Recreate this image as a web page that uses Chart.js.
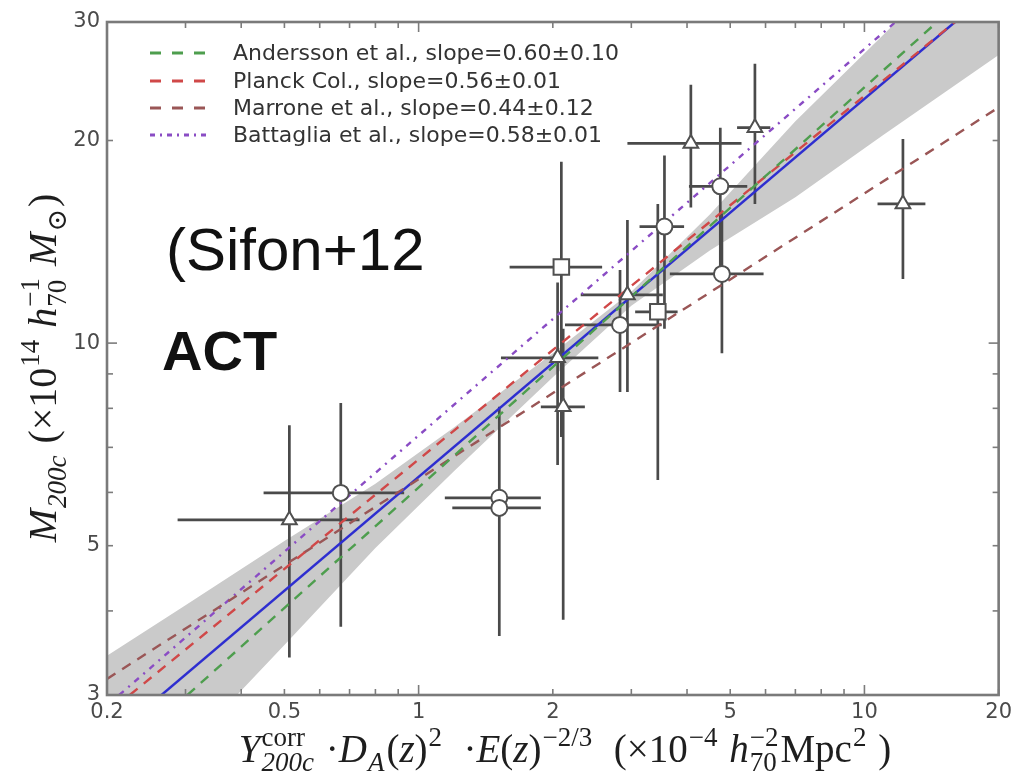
<!DOCTYPE html>
<html>
<head>
<meta charset="utf-8">
<script src="https://cdn.jsdelivr.net/npm/chart.js@4.4.1/dist/chart.umd.min.js"></script>
<style>
  html, body { margin: 0; padding: 0; background: #fff; }
  canvas { display: block; }
</style>
</head>
<body>
<canvas id="c" width="1017" height="777"></canvas>
<script>
// ---------- axis ticks ----------
const xMajorVals = [0.2, 0.5, 1, 2, 5, 10, 20];
const xMajorLabels = ['0.2', '0.5', '1', '2', '5', '10', '20'];
const yMajorVals = [3, 5, 10, 20, 30];
const yMajorLabels = ['3', '5', '10', '20', '30'];
const xMinorVals = [0.3, 0.4, 0.6, 0.7, 0.8, 0.9, 3, 4, 6, 7, 8, 9];
const yMinorVals = [4, 6, 7, 8, 9];
const decadeVals = [1, 10];

// ---------- clusters: [Y, M, Ylo, Yhi, Mlo, Mhi] ----------
const circlePts = [
  [0.669, 5.99, 0.449, 0.928, 3.79, 8.15],
  [1.517, 5.89, 1.145, 1.88, 4.05, 8.04],
  [1.517, 5.69, 1.19, 1.88, 3.67, 7.25],
  [2.83, 10.64, 2.13, 3.51, 8.46, 12.84],
  [3.56, 14.9, 3.13, 3.94, 10.5, 19.0],
  [4.75, 17.1, 4.04, 5.46, 13.0, 20.9],
  [4.79, 12.67, 3.66, 5.94, 9.66, 15.6]
];
const squarePts = [
  [2.09, 12.97, 1.60, 2.58, 7.25, 18.6],
  [3.44, 11.13, 3.06, 3.81, 6.26, 16.1]
];
const trianglePts = [
  [0.513, 5.46, 0.288, 0.737, 3.41, 7.55],
  [2.05, 9.51, 1.53, 2.53, 6.59, 12.3],
  [2.11, 8.04, 1.88, 2.36, 3.88, 10.5],
  [2.94, 11.79, 2.31, 3.53, 8.46, 15.24],
  [4.08, 19.8, 2.94, 5.3, 15.9, 24.2],
  [5.68, 20.9, 5.18, 6.15, 16.1, 26.0],
  [12.2, 16.1, 10.7, 13.7, 12.45, 20.1]
];

// ---------- scaling relations (end points) ----------
const bestFitX = [0.265, 15.96], bestFitY = [3, 30];
const anderssonX = [0.303, 14.56], anderssonY = [3, 30];
const planckX = [0.225, 15.96], planckY = [3, 30];
const marroneX = [0.2, 20], marroneY = [3.17, 22.4];
const battagliaX = [0.213, 11.74], battagliaY = [3, 30];

// ---------- confidence band of the best fit ----------
const bandX = [0.2, 0.3, 0.5, 0.8, 1.2, 2, 3, 4.5, 7, 11, 20];
const bandHi = [3.43, 4.08, 5.08, 6.18, 7.49, 9.66, 11.92, 15.53, 21.36, 28.66, 42.7];
const bandLo = [1.88, 2.49, 3.56, 4.96, 6.45, 8.90, 11.36, 13.73, 16.47, 20.36, 26.8];

// ---------- legend / annotation text ----------
const legendLabels = [
  'Andersson et al., slope=0.60\u00b10.10',
  'Planck Col., slope=0.56\u00b10.01',
  'Marrone et al., slope=0.44\u00b10.12',
  'Battaglia et al., slope=0.58\u00b10.01'
];
const noteRef = '(Sifon+12';
const noteSurvey = 'ACT';

const allPts = [...circlePts, ...squarePts, ...trianglePts];
const xErrData = [];
const yErrData = [];
allPts.forEach(p => {
  xErrData.push({x: p[2], y: p[1]}, {x: p[3], y: p[1]}, {x: p[3], y: null});
  yErrData.push({x: p[0], y: p[4]}, {x: p[0], y: p[5]}, {x: p[0], y: null});
});
const pairs = (xs, ys) => xs.map((x, i) => ({x, y: ys[i]}));
const pts = arr => arr.map(p => ({x: p[0], y: p[1]}));

const lineStyle = (data, color, dash, width) => ({
  type: 'scatter', data, showLine: true, borderColor: color, borderDash: dash,
  borderWidth: width, pointRadius: 0, fill: false, order: 3, tension: 0
});

const markerStyle = (data, style, r) => ({
  type: 'scatter', data, pointStyle: style, pointRadius: r,
  backgroundColor: '#ffffff', borderColor: '#505050', borderWidth: 2, order: 1
});

const ERR = '#4a4a4a';
const datasets = [
  { type: 'scatter', data: pairs(bandX, bandHi), showLine: true, fill: '+1',
    backgroundColor: '#cacaca', borderWidth: 0, pointRadius: 0, order: 6 },
  { type: 'scatter', data: pairs(bandX, bandLo), showLine: true, fill: false,
    borderWidth: 0, pointRadius: 0, order: 6 },
  { type: 'scatter', data: xErrData, showLine: true, spanGaps: false, borderColor: ERR,
    borderWidth: 2.7, pointRadius: 0, order: 4 },
  { type: 'scatter', data: yErrData, showLine: true, spanGaps: false, borderColor: ERR,
    borderWidth: 2.7, pointRadius: 0, order: 4 },
  lineStyle(pairs(anderssonX, anderssonY), '#4e9e4e', [10, 8], 2.4),
  lineStyle(pairs(planckX, planckY), '#d04848', [10, 8], 2.4),
  lineStyle(pairs(marroneX, marroneY), '#9a5656', [10, 8], 2.4),
  lineStyle(pairs(battagliaX, battagliaY), '#8a4cc4', [6, 6, 2, 6], 2.4),
  lineStyle(pairs(bestFitX, bestFitY), '#2e2ed0', [], 2.4),
  markerStyle(pts(circlePts), 'circle', 8),
  markerStyle(pts(squarePts), 'rect', 11),
  markerStyle(pts(trianglePts), 'triangle', 8.5)
];
const legendDatasets = [4, 5, 6, 7];

// ---------- mathematical axis titles ----------
const yTitle = [
  {t: 'M', i: 1}, {sub: '200c', subI: 1}, {t: ' (\u00d710'}, {sup: '14'}, {t: ' '},
  {t: 'h', i: 1}, {sub: '70', sup: '\u22121'}, {t: ' '}, {t: 'M', i: 1}, {sub: '\u2299'}, {t: ')'}
];
const xTitle = [
  {t: 'Y', i: 1}, {sup: 'corr', sub: '200c', subI: 1}, {t: ' \u00b7'}, {t: 'D', i: 1}, {sub: 'A', subI: 1},
  {t: '('}, {t: 'z', i: 1}, {t: ')'}, {sup: '2'}, {t: '  \u00b7'}, {t: 'E', i: 1}, {t: '('}, {t: 'z', i: 1},
  {t: ')'}, {sup: '\u22122/3'}, {t: '  (\u00d710'}, {sup: '\u22124'}, {t: ' '}, {t: 'h', i: 1},
  {sub: '70', sup: '\u22122'}, {t: 'Mpc'}, {sup: '2'}, {t: ' )'}
];
const SERIF = '"Liberation Serif", "DejaVu Serif", serif';

function layoutRich(ctx, segs, size) {
  const small = Math.round(size * 0.68);
  const items = [];
  let w = 0;
  for (const s of segs) {
    if (s.t !== undefined) {
      const font = (s.i ? 'italic ' : '') + size + 'px ' + SERIF;
      ctx.font = font;
      items.push({text: s.t, font, x: w, dy: 0});
      w += ctx.measureText(s.t).width;
    } else {
      let adv = 0;
      if (s.sup !== undefined) {
        const font = small + 'px ' + SERIF;
        ctx.font = font;
        items.push({text: s.sup, font, x: w + 1, dy: -size * 0.42});
        adv = Math.max(adv, ctx.measureText(s.sup).width + 1);
      }
      if (s.sub !== undefined) {
        const font = (s.subI ? 'italic ' : '') + small + 'px ' + SERIF;
        ctx.font = font;
        items.push({text: s.sub, font, x: w + 1, dy: size * 0.24});
        adv = Math.max(adv, ctx.measureText(s.sub).width + 1);
      }
      w += adv + 2;
    }
  }
  return {items, w};
}

function drawRich(ctx, segs, size, cx, cy, rotate) {
  const {items, w} = layoutRich(ctx, segs, size);
  ctx.save();
  ctx.translate(cx, cy);
  if (rotate) ctx.rotate(-Math.PI / 2);
  ctx.fillStyle = '#1e1e1e';
  ctx.textBaseline = 'alphabetic';
  ctx.textAlign = 'left';
  for (const it of items) {
    ctx.font = it.font;
    ctx.fillText(it.text, it.x - w / 2, it.dy);
  }
  ctx.restore();
}

const decor = {
  id: 'decor',
  afterDatasetsDraw(chart) {
    const {ctx, chartArea: a, scales} = chart;
    const sx = scales.x, sy = scales.y;
    ctx.save();
    // tick marks, inside on all four sides
    ctx.strokeStyle = '#7c7c7c';
    ctx.lineWidth = 1.6;
    const seg = (x1, y1, x2, y2) => { ctx.beginPath(); ctx.moveTo(x1, y1); ctx.lineTo(x2, y2); ctx.stroke(); };
    [...xMajorVals, ...xMinorVals].forEach(v => {
      const len = decadeVals.includes(v) ? 10 : 6;
      const px = sx.getPixelForValue(v);
      seg(px, a.bottom, px, a.bottom - len);
      seg(px, a.top, px, a.top + len);
    });
    [...yMajorVals, ...yMinorVals].forEach(v => {
      const len = decadeVals.includes(v) ? 10 : 6;
      const py = sy.getPixelForValue(v);
      seg(a.left, py, a.left + len, py);
      seg(a.right, py, a.right - len, py);
    });
    // frame
    ctx.strokeStyle = '#7a7a7a';
    ctx.lineWidth = 2.6;
    ctx.strokeRect(a.left, a.top, a.right - a.left, a.bottom - a.top);

    // legend
    const rowY = [53, 81, 108, 135];
    legendDatasets.forEach((di, k) => {
      const ds = chart.data.datasets[di];
      ctx.strokeStyle = ds.borderColor;
      ctx.lineWidth = 3;
      ctx.setLineDash(ds.borderDash.length ? (ds.borderDash.length > 2 ? [5, 5, 2, 5] : [11, 11]) : []);
      seg(150, rowY[k], 208, rowY[k]);
      ctx.setLineDash([]);
      ctx.fillStyle = '#333';
      ctx.font = '22px "DejaVu Sans", sans-serif';
      ctx.textBaseline = 'middle';
      ctx.textAlign = 'left';
      ctx.fillText(legendLabels[k], 233, rowY[k] + 1);
    });

    // annotations
    ctx.fillStyle = '#111';
    ctx.textBaseline = 'alphabetic';
    ctx.font = '60px "Liberation Sans", Arial, sans-serif';
    ctx.fillText(noteRef, 166, 270);
    ctx.font = 'bold 56px "Liberation Sans", Arial, sans-serif';
    ctx.fillText(noteSurvey, 162, 370);
    ctx.restore();

    // axis titles
    drawRich(ctx, yTitle, 40, 56, 368, true);
    drawRich(ctx, xTitle, 39, 565, 762, false);
  }
};

new Chart(document.getElementById('c'), {
  type: 'scatter',
  data: { datasets },
  options: {
    responsive: false,
    animation: false,
    devicePixelRatio: 1,
    events: [],
    layout: { autoPadding: false, padding: { left: 0, right: 10, top: 22, bottom: 0 } },
    scales: {
      x: {
        type: 'logarithmic', min: 0.2, max: 20,
        afterFit: s => { s.height = 82; },
        afterBuildTicks: s => { s.ticks = xMajorVals.map(v => ({value: v})); },
        ticks: { autoSkip: false, maxRotation: 0, padding: 5, color: '#4a4a4a',
                 font: { family: 'DejaVu Sans', size: 21 },
                 callback: (v, i) => xMajorLabels[i] },
        grid: { display: false, drawTicks: false },
        border: { display: false }
      },
      y: {
        type: 'logarithmic', min: 3, max: 30,
        afterFit: s => { s.width = 107; },
        afterBuildTicks: s => { s.ticks = yMajorVals.map(v => ({value: v})); },
        ticks: { autoSkip: false, padding: 7, color: '#4a4a4a',
                 font: { family: 'DejaVu Sans', size: 21 },
                 callback: (v, i) => yMajorLabels[i] },
        grid: { display: false, drawTicks: false },
        border: { display: false }
      }
    },
    plugins: { legend: { display: false }, tooltip: { enabled: false } }
  },
  plugins: [decor]
});
</script>
</body>
</html>
